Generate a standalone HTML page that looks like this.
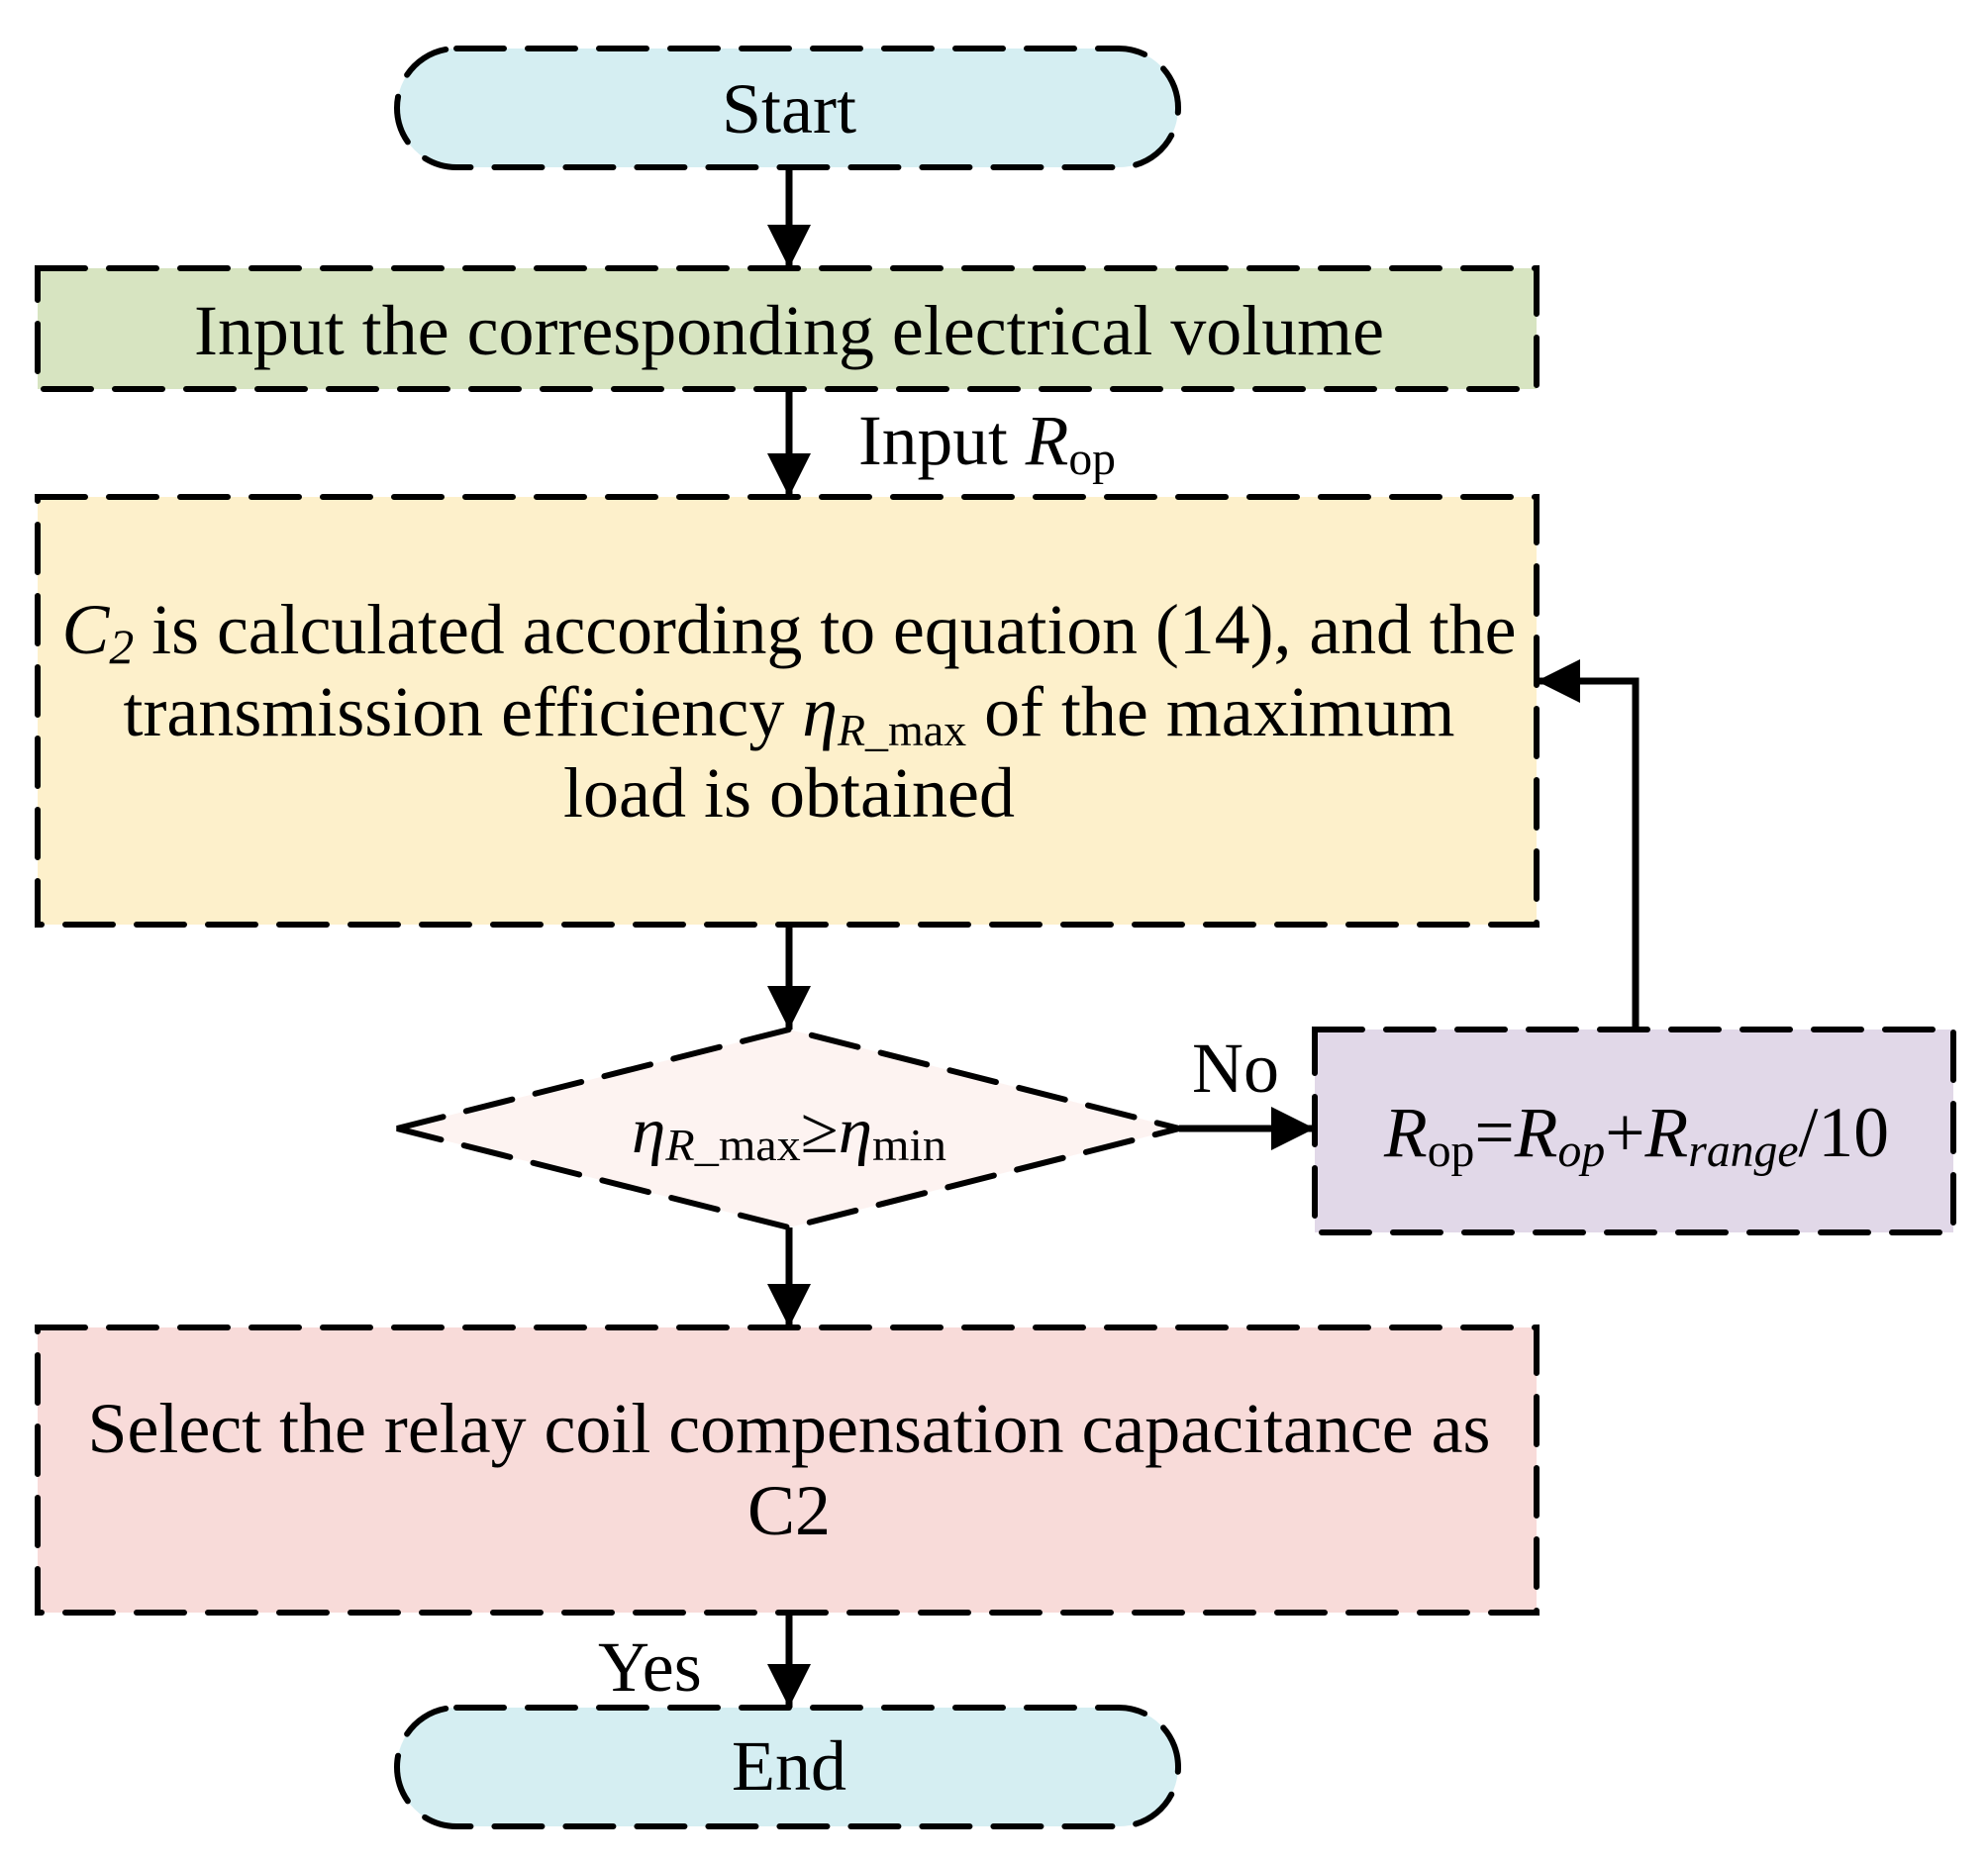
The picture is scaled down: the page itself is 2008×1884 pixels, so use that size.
<!DOCTYPE html>
<html><head><meta charset="utf-8"><style>html,body{margin:0;padding:0;background:#fff}svg{display:block}</style></head>
<body>
<svg width="2008" height="1884" viewBox="0 0 2008 1884" xmlns="http://www.w3.org/2000/svg" font-family="Liberation Serif, serif" font-size="72">
<defs><marker id="a" viewBox="0 0 10 10" refX="10" refY="5" markerWidth="44" markerHeight="44" markerUnits="userSpaceOnUse" orient="auto"><path d="M0,0L10,5L0,10z" fill="#000"/></marker></defs>
<g stroke="#000" stroke-width="6" stroke-dasharray="48 24" stroke-linecap="round">
<rect x="401" y="49" width="789" height="120" rx="60" fill="#d5eef2"/>
<rect x="38" y="271" width="1514" height="122" fill="#d7e4c1"/>
<rect x="38" y="502" width="1514" height="432" fill="#fdf0cb"/>
<polygon points="401,1140 797,1040 1191,1140 797,1240" fill="#fdf3f1"/>
<rect x="1328" y="1040" width="645" height="205" fill="#e1d8e8"/>
<rect x="38" y="1341" width="1514" height="288" fill="#f8dbd9"/>
<rect x="401" y="1725" width="789" height="120" rx="60" fill="#d5eef2"/>
</g>
<g stroke="#000" stroke-width="7" fill="none" marker-end="url(#a)">
<line x1="797" y1="169" x2="797" y2="271"/>
<line x1="797" y1="393" x2="797" y2="502"/>
<line x1="797" y1="934" x2="797" y2="1040"/>
<line x1="1191" y1="1140" x2="1328" y2="1140"/>
<polyline points="1652,1040 1652,688 1552,688"/>
<line x1="797" y1="1240" x2="797" y2="1341"/>
<line x1="797" y1="1629" x2="797" y2="1725"/>
</g>
<g text-anchor="middle" fill="#000">
<text x="797" y="134">Start</text>
<text x="797" y="358" textLength="1202" lengthAdjust="spacingAndGlyphs">Input the corresponding electrical volume</text>
<text x="797" y="660" textLength="1469" lengthAdjust="spacingAndGlyphs"><tspan font-style="italic">C</tspan><tspan font-style="italic" font-size="50" dy="10">2</tspan><tspan dy="-10"> is calculated according to equation (14), and the</tspan></text>
<text x="797" y="743" textLength="1345" lengthAdjust="spacingAndGlyphs">transmission efficiency <tspan font-style="italic">η</tspan><tspan font-style="italic" font-size="46" dy="10">R</tspan><tspan font-size="46">_max</tspan><tspan dy="-10"> of the maximum</tspan></text>
<text x="797" y="825">load is obtained</text>
<text x="797" y="1164" font-size="66" textLength="318" lengthAdjust="spacingAndGlyphs"><tspan font-style="italic">η</tspan><tspan font-style="italic" font-size="46" dy="8">R</tspan><tspan font-size="46">_max</tspan><tspan dy="-8">≥</tspan><tspan font-style="italic">η</tspan><tspan font-size="46" dy="8">min</tspan></text>
<text x="1653" y="1168" textLength="510" lengthAdjust="spacingAndGlyphs"><tspan font-style="italic">R</tspan><tspan font-size="48" dy="10">op</tspan><tspan dy="-10">=</tspan><tspan font-style="italic">R</tspan><tspan font-style="italic" font-size="48" dy="10">op</tspan><tspan dy="-10">+</tspan><tspan font-style="italic">R</tspan><tspan font-style="italic" font-size="48" dy="10">range</tspan><tspan dy="-10">/10</tspan></text>
<text x="797" y="1467" textLength="1417" lengthAdjust="spacingAndGlyphs">Select the relay coil compensation capacitance as</text>
<text x="797" y="1550">C2</text>
<text x="797" y="1808">End</text>
</g>
<text x="867" y="469" fill="#000" textLength="260" lengthAdjust="spacingAndGlyphs">Input <tspan font-style="italic">R</tspan><tspan font-size="48" dy="10">op</tspan></text>
<text x="1204" y="1103" fill="#000">No</text>
<text x="604" y="1708" fill="#000">Yes</text>
</svg>
</body></html>
